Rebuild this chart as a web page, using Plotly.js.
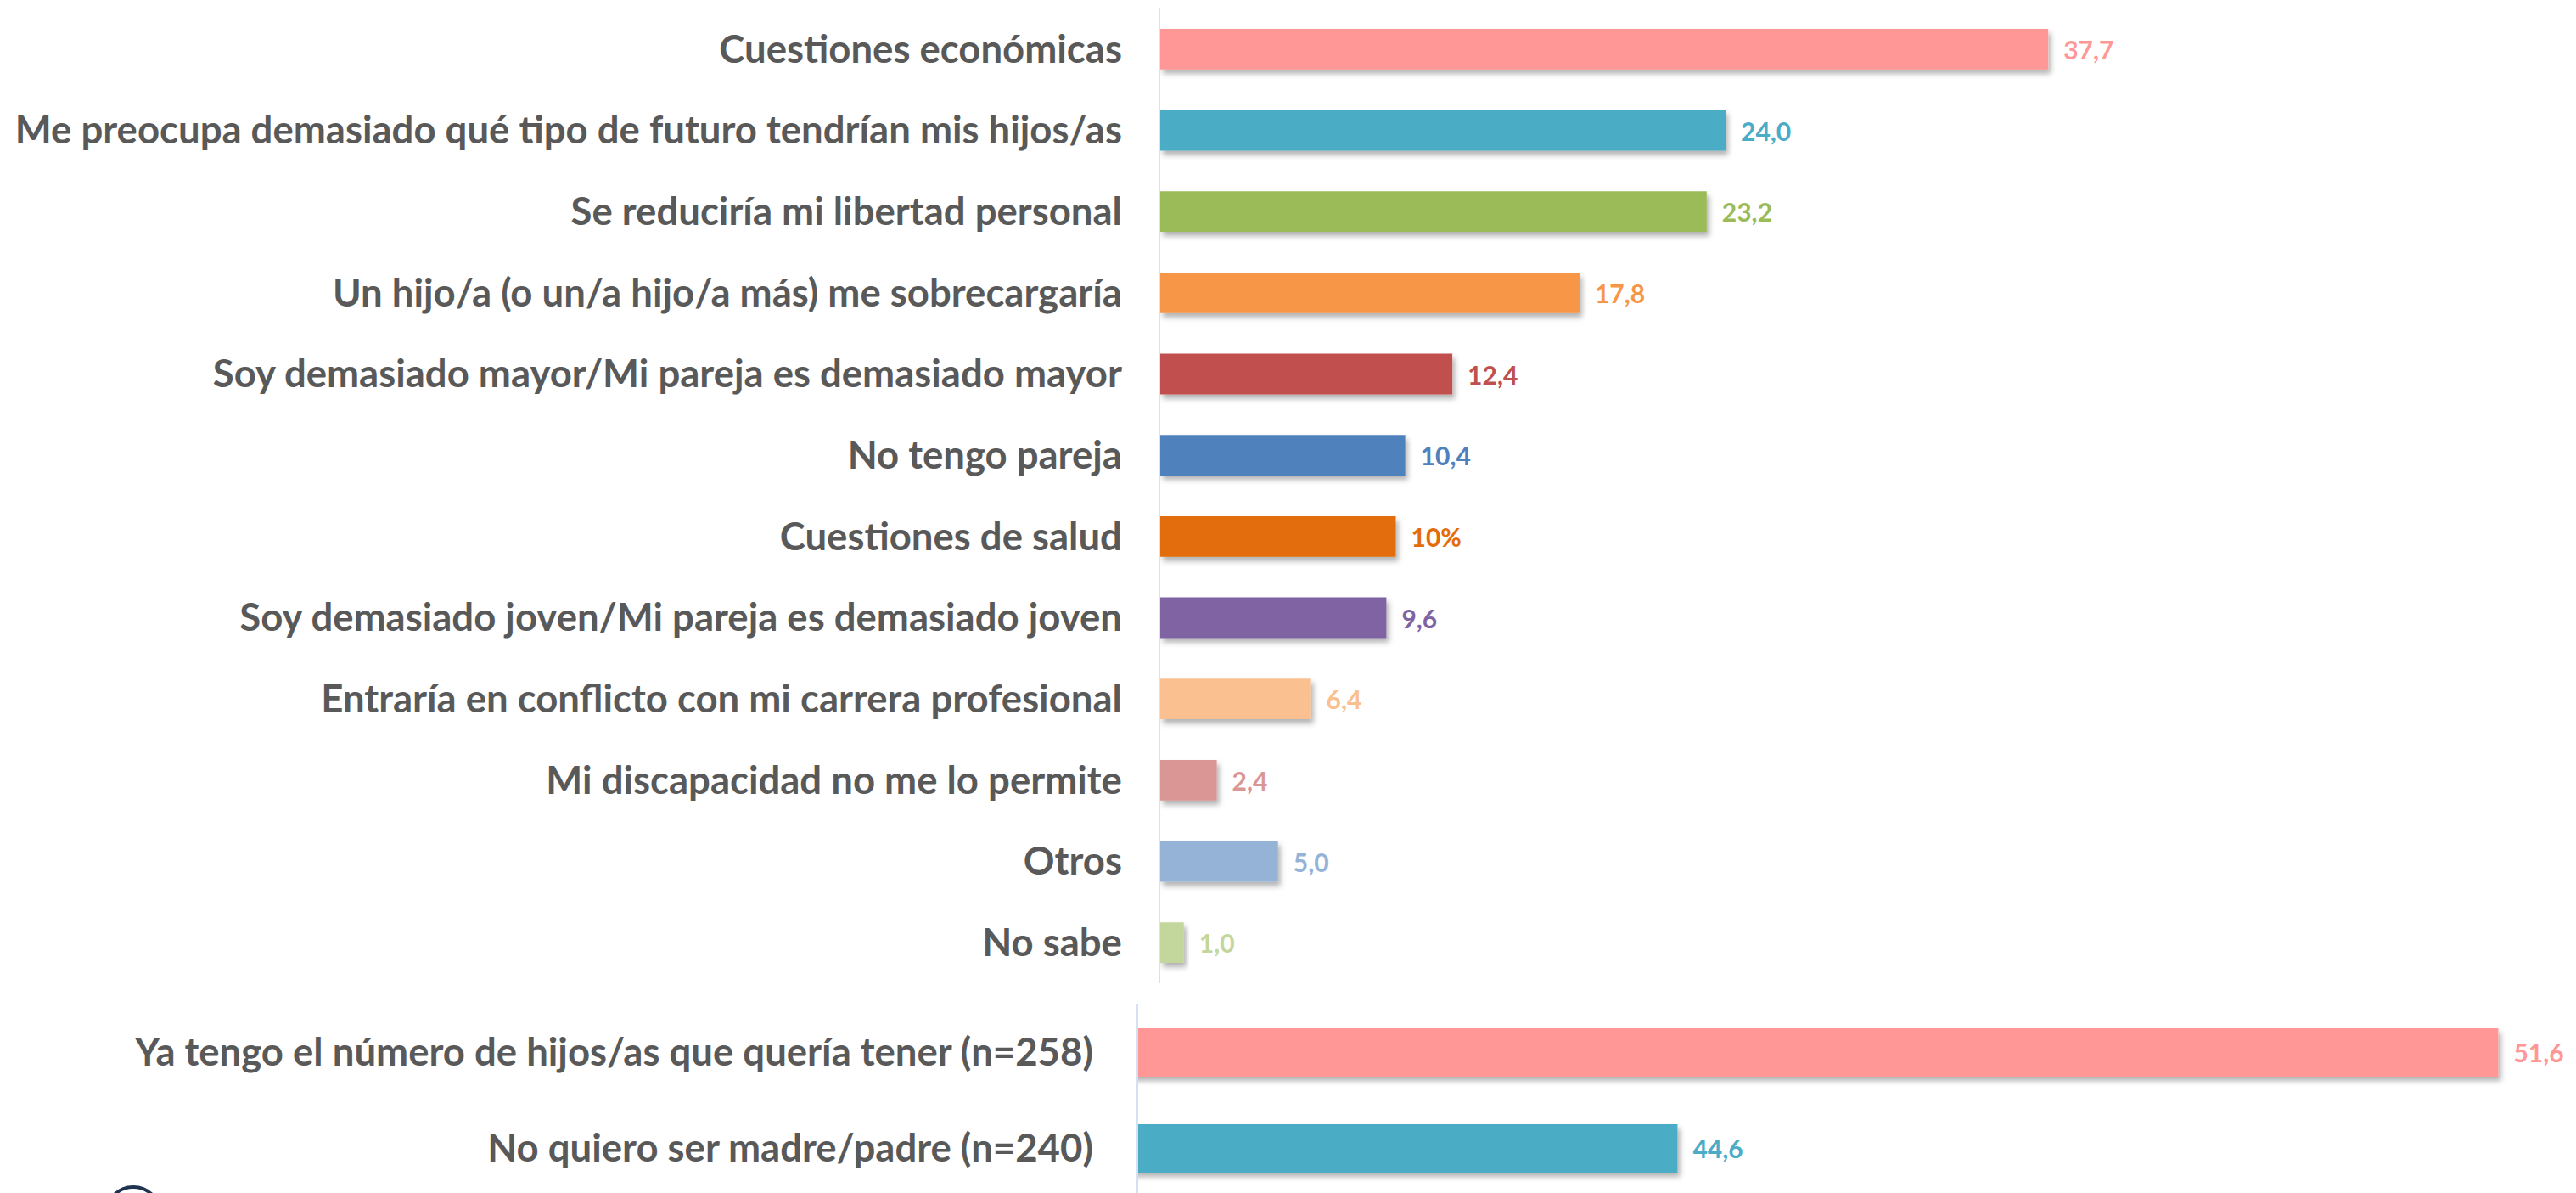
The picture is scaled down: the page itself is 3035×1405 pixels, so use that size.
<!DOCTYPE html>
<html>
<head>
<meta charset="utf-8">
<script src="https://cdn.plot.ly/plotly-3.0.1.min.js"></script>
<style>
html, body { margin: 0; padding: 0; background: #ffffff; }
#chart { width: 3035px; height: 1405px; }
</style>
</head>
<body>
<svg width="0" height="0" style="position:absolute">
  <defs>
    <filter id="barShadow" x="-10%" y="-30%" width="130%" height="180%">
      <feDropShadow dx="3" dy="5" stdDeviation="3" flood-color="#000000" flood-opacity="0.30"/>
    </filter>
  </defs>
</svg>
<div id="chart"></div>
<script>
// ---- Data ----
const topCategories = [
  "Cuestiones económicas",
  "Me preocupa demasiado qué tipo de futuro tendrían mis hijos/as",
  "Se reduciría mi libertad personal",
  "Un hijo/a (o un/a hijo/a más) me sobrecargaría",
  "Soy demasiado mayor/Mi pareja es demasiado mayor",
  "No tengo pareja",
  "Cuestiones de salud",
  "Soy demasiado joven/Mi pareja es demasiado joven",
  "Entraría en conflicto con mi carrera profesional",
  "Mi discapacidad no me lo permite",
  "Otros",
  "No sabe"
];
const topValues = [37.7, 24.0, 23.2, 17.8, 12.4, 10.4, 10.0, 9.6, 6.4, 2.4, 5.0, 1.0];
const topLabels = ["37,7", "24,0", "23,2", "17,8", "12,4", "10,4", "10%", "9,6", "6,4", "2,4", "5,0", "1,0"];
const topColors = ["#FF9797", "#4BACC6", "#9BBB59", "#F79646", "#C0504D", "#4F81BD",
                   "#E36C09", "#8064A2", "#FAC090", "#D99694", "#95B3D7", "#C3D69B"];

const bottomCategories = [
  "Ya tengo el número de hijos/as que quería tener (n=258)",
  "No quiero ser madre/padre (n=240)"
];
const bottomValues = [51.6, 44.6];
const bottomLabels = ["51,6", "44,6"];
const bottomColors = ["#FF9797", "#4BACC6"];

// ---- Styles ----
const labelFont = { family: "Lato, 'Open Sans', sans-serif", size: 45.5, color: "#595959", weight: 700 };
const valueFontSize = 30;
const axisLineColor = "#D5E1F1";

const traces = [
  {
    type: "bar",
    orientation: "h",
    x: topValues,
    y: topCategories,
    text: topLabels,
    texttemplate: "\u2002%{text}",
    textposition: "outside",
    constraintext: "none",
    cliponaxis: false,
    width: 0.5,
    marker: { color: topColors, line: { width: 0 } },
    textfont: { family: "Lato, 'Open Sans', sans-serif", size: valueFontSize, color: topColors, weight: 700 },
    xaxis: "x",
    yaxis: "y",
    hoverinfo: "none"
  },
  {
    type: "bar",
    orientation: "h",
    x: bottomValues,
    y: bottomCategories,
    text: bottomLabels,
    texttemplate: "\u2002%{text}",
    textposition: "outside",
    constraintext: "none",
    cliponaxis: false,
    width: 0.505,
    marker: { color: bottomColors, line: { width: 0 } },
    textfont: { family: "Lato, 'Open Sans', sans-serif", size: valueFontSize, color: bottomColors, weight: 700 },
    xaxis: "x2",
    yaxis: "y2",
    hoverinfo: "none"
  }
];

const W = 3035, H = 1405;
const layout = {
  width: W,
  height: H,
  margin: { l: 0, r: 0, t: 0, b: 0 },
  paper_bgcolor: "#ffffff",
  plot_bgcolor: "rgba(0,0,0,0)",
  showlegend: false,
  xaxis: {
    domain: [1367 / W, 1],
    range: [0, (W - 1367) / 27.75],
    visible: false,
    fixedrange: true
  },
  yaxis: {
    domain: [(H - 1158) / H, (H - 10) / H],
    type: "category",
    range: [11.5, -0.5],
    showline: true,
    linecolor: axisLineColor,
    linewidth: 2,
    ticks: "",
    showgrid: false,
    zeroline: false,
    tickfont: labelFont,
    ticklabelstandoff: 34,
    fixedrange: true
  },
  xaxis2: {
    anchor: "y2",
    domain: [1341 / W, 1],
    range: [40, 40 + (W - 1341) / 138.14],
    visible: false,
    fixedrange: true
  },
  yaxis2: {
    anchor: "x2",
    domain: [0, (H - 1183) / H],
    type: "category",
    range: [1.465, -0.5],
    showline: true,
    linecolor: axisLineColor,
    linewidth: 2,
    ticks: "",
    showgrid: false,
    zeroline: false,
    tickfont: labelFont,
    ticklabelstandoff: 42,
    fixedrange: true
  },
  shapes: [
    {
      type: "circle",
      xref: "paper", yref: "paper",
      x0: 125 / W, x1: 189 / W,
      y0: (H - 1462) / H, y1: (H - 1398) / H,
      line: { color: "#1F3350", width: 4 },
      fillcolor: "rgba(0,0,0,0)"
    }
  ]
};

function addShadows() {
  document.querySelectorAll("#chart .barlayer .point path").forEach(p => {
    p.setAttribute("filter", "url(#barShadow)");
  });
}

Plotly.newPlot("chart", traces, layout, { displayModeBar: false, staticPlot: true }).then(gd => {
  addShadows();
  gd.on && gd.on("plotly_afterplot", addShadows);
});
</script>
</body>
</html>
